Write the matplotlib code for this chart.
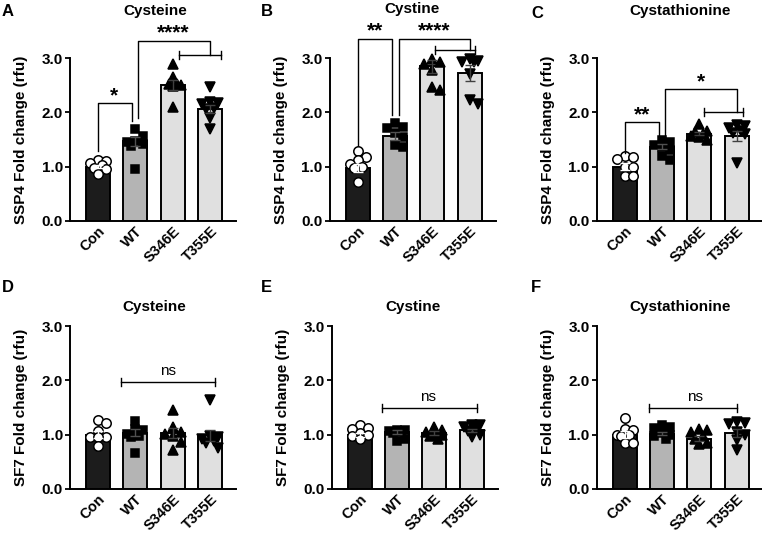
import numpy as np
import matplotlib
matplotlib.use('Agg')
import matplotlib.pyplot as plt

plt.rcParams['font.family'] = ['Liberation Sans', 'DejaVu Sans']
plt.rcParams['font.weight'] = 'bold'
plt.rcParams['axes.labelweight'] = 'bold'

# groups and styling per group
groups = ['Con', 'WT', 'S346E', 'T355E']

# ---- Panel A: SSP4, Cysteine ----
a_means = [1.00, 1.47, 2.51, 2.06]
a_sems = [0.03, 0.08, 0.09, 0.08]
a_con = [1.12, 1.10, 1.06, 1.03, 0.98, 0.96, 0.86]
a_wt = [1.69, 1.57, 1.48, 1.45, 1.42, 1.38, 0.95]
a_s346e = [2.89, 2.66, 2.53, 2.52, 2.50, 2.48, 2.10]
a_t355e = [2.46, 2.20, 2.18, 2.16, 2.08, 2.06, 1.89, 1.70]

# ---- Panel B: SSP4, Cystine ----
b_means = [0.98, 1.57, 2.85, 2.72]
b_sems = [0.07, 0.07, 0.12, 0.15]
b_con = [1.28, 1.17, 1.13, 1.05, 1.00, 0.97, 0.71]
b_wt = [1.80, 1.74, 1.72, 1.62, 1.55, 1.40, 1.37]
b_s346e = [2.98, 2.93, 2.90, 2.78, 2.47, 2.41]
b_t355e = [2.98, 2.94, 2.93, 2.92, 2.70, 2.23, 2.15]

# ---- Panel C: SSP4, Cystathionine ----
c_means = [1.00, 1.37, 1.61, 1.56]
c_sems = [0.06, 0.05, 0.03, 0.09]
c_con = [1.19, 1.17, 1.15, 1.00, 0.99, 0.83, 0.82]
c_wt = [1.50, 1.45, 1.40, 1.37, 1.30, 1.20, 1.13]
c_s346e = [1.78, 1.66, 1.64, 1.60, 1.57, 1.55, 1.50]
c_t355e = [1.77, 1.75, 1.72, 1.65, 1.62, 1.60, 1.07]

# ---- Panel D: SF7, Cysteine ----
d_means = [1.00, 1.04, 1.03, 0.99]
d_sems = [0.06, 0.07, 0.09, 0.10]
d_con = [1.27, 1.21, 1.07, 0.95, 0.95, 0.95, 0.79]
d_wt = [1.26, 1.10, 1.08, 1.02, 0.98, 0.95, 0.66]
d_s346e = [1.45, 1.14, 1.05, 1.02, 0.98, 0.87, 0.72]
d_t355e = [1.64, 0.97, 0.95, 0.93, 0.88, 0.85, 0.75]

# ---- Panel E: SF7, Cystine ----
e_means = [1.00, 1.05, 1.03, 1.08]
e_sems = [0.04, 0.03, 0.03, 0.03]
e_con = [1.17, 1.12, 1.10, 1.03, 1.00, 0.98, 0.92]
e_wt = [1.09, 1.08, 1.07, 1.05, 1.03, 0.92, 0.88]
e_s346e = [1.15, 1.08, 1.05, 1.02, 1.00, 0.98, 0.93]
e_t355e = [1.18, 1.17, 1.15, 1.10, 1.06, 1.00, 0.96]

# ---- Panel F: SF7, Cystathionine ----
f_means = [1.00, 1.02, 0.93, 1.03]
f_sems = [0.06, 0.03, 0.04, 0.07]
f_con = [1.30, 1.10, 1.08, 1.00, 0.99, 0.98, 0.84, 0.84]
f_wt = [1.18, 1.15, 1.12, 1.03, 1.00, 0.97, 0.93]
f_s346e = [1.10, 1.08, 1.05, 0.98, 0.92, 0.85, 0.82]
f_t355e = [1.24, 1.22, 1.20, 1.05, 1.00, 0.90, 0.72]

y_ticks = [0, 1, 2, 3]
y_ticklabels = ['0.0', '1.0', '2.0', '3.0']

BAR_COLORS = ['#1c1c1c', '#b4b4b4', '#e0e0e0', '#e0e0e0']
ERR_COLORS = ['#ffffff', '#505050', '#404040', '#404040']
MARKERS = ['o', 's', '^', 'v']
MSIZE = [6.8, 6.0, 7.0, 7.0]
FACES = ['white', 'black', 'black', 'black']

W, H = 762, 533
XLIM = (-0.75, 3.7)
PX_X = 37.4   # pixels per x unit
PX_Y = 54.3   # pixels per y unit


def swarm(values, d=8.0, max_px=11.0):
    """simple beeswarm: horizontal offsets (data units) so markers don't overlap"""
    placed = []
    offs = []
    cands = [0.0]
    for k in range(1, 6):
        cands += [k * d / 2.0, -k * d / 2.0]
    for v in values:
        y = v * PX_Y
        best, best_gap = 0.0, -1
        for c in cands:
            if abs(c) > max_px:
                continue
            gap = min([np.hypot(c - px, y - py) for px, py in placed] + [99])
            if gap >= d:
                best = c
                break
            if gap > best_gap:
                best, best_gap = c, gap
        placed.append((best, y))
        offs.append(best / PX_X)
    return offs


def draw_panel(ax, means, sems, points, ylabel):
    x = np.arange(len(groups))
    ax.bar(x, means, width=0.64, color=BAR_COLORS, edgecolor='black',
           linewidth=1.4, zorder=2)
    for i, pts in enumerate(points):
        offs = swarm(pts)
        ax.plot(x[i] + np.array(offs), pts, linestyle='none', marker=MARKERS[i],
                ms=MSIZE[i], mfc=FACES[i], mec='black', mew=1.1,
                zorder=3, clip_on=False)
        ax.errorbar(x[i], means[i], yerr=sems[i], color=ERR_COLORS[i],
                    capsize=3.5, elinewidth=1.0, capthick=1.0, zorder=4)
    ax.set_xlim(*XLIM)
    ax.set_ylim(0, 3.0)
    ax.set_yticks(y_ticks)
    ax.set_yticklabels(y_ticklabels, fontsize=11, fontweight='bold')
    ax.set_xticks(x)
    ax.set_xticklabels(groups, fontsize=10.5, fontweight='bold', rotation=45,
                       ha='right', va='top', rotation_mode='anchor')
    ax.tick_params(axis='x', length=0, pad=2)
    ax.tick_params(axis='y', length=3.5, width=1.3, pad=1.5)
    for s in ['top', 'right']:
        ax.spines[s].set_visible(False)
    for s in ['left', 'bottom']:
        ax.spines[s].set_linewidth(1.4)
    ax.set_ylabel(ylabel, fontsize=11, fontweight='bold')
    ax.yaxis.set_label_coords(-0.25, 0.5)


def bracket(ax, x1, x2, top, b1, b2, text, ty, tx=None):
    ax.plot([x1, x1, x2, x2], [b1, top, top, b2], color='black', lw=1.0,
            clip_on=False, zorder=5)
    if tx is None:
        tx = (x1 + x2) / 2
    ax.text(tx, ty, text, ha='center', va='center', fontsize=15,
            fontweight='bold', clip_on=False)


def cap_line(ax, x1, x2, y, cap=0.07):
    ax.plot([x1, x2], [y, y], color='black', lw=1.0, clip_on=False, zorder=5)
    for xx in (x1, x2):
        ax.plot([xx, xx], [y - cap, y + cap], color='black', lw=1.0,
                clip_on=False, zorder=5)


def add_axes_px(left, y0):
    width = (XLIM[1] - XLIM[0]) * PX_X
    height = 3.0 * PX_Y
    return fig.add_axes([left / W, 1 - y0 / H, width / W, height / H])


fig = plt.figure(figsize=(W / 100, H / 100), dpi=100)

# top row (SSP4)
axA = add_axes_px(70, 221)
axB = add_axes_px(329.5, 221)
axC = add_axes_px(596.5, 221)
# bottom row (SF7)
axD = add_axes_px(70, 489)
axE = add_axes_px(331.5, 489)
axF = add_axes_px(596.5, 489)

draw_panel(axA, a_means, a_sems, [a_con, a_wt, a_s346e, a_t355e],
           'SSP4 Fold change (rfu)')
draw_panel(axB, b_means, b_sems, [b_con, b_wt, b_s346e, b_t355e],
           'SSP4 Fold change (rfu)')
draw_panel(axC, c_means, c_sems, [c_con, c_wt, c_s346e, c_t355e],
           'SSP4 Fold change (rfu)')
draw_panel(axD, d_means, d_sems, [d_con, d_wt, d_s346e, d_t355e],
           'SF7 Fold change (rfu)')
draw_panel(axE, e_means, e_sems, [e_con, e_wt, e_s346e, e_t355e],
           'SF7 Fold change (rfu)')
draw_panel(axF, f_means, f_sems, [f_con, f_wt, f_s346e, f_t355e],
           'SF7 Fold change (rfu)')

# panel titles (figure coordinates, pixels from top-left)
for title, px, py in [('Cysteine', 155, 11), ('Cystine', 412, 9),
                      ('Cystathionine', 680, 11), ('Cysteine', 154, 307),
                      ('Cystine', 413, 307), ('Cystathionine', 680, 307)]:
    fig.text(px / W, 1 - py / H, title, fontsize=11, fontweight='bold',
             ha='center', va='center')

# significance brackets
bracket(axA, 0, 0.9, 2.17, 1.28, 1.84, '*', 2.30, 0.43)
bracket(axA, 1.08, 3.0, 3.32, 1.89, 3.06, '****', 3.46, 2.0)
cap_line(axA, 2.17, 3.28, 3.06)

bracket(axB, 0, 0.93, 3.35, 1.40, 1.95, '**', 3.51, 0.47)
bracket(axB, 1.11, 3.02, 3.35, 1.95, 3.15, '****', 3.51, 2.05)
cap_line(axB, 2.07, 3.15, 3.15)

bracket(axC, 0, 0.92, 1.83, 1.25, 1.55, '**', 1.96, 0.47)
bracket(axC, 1.08, 3.02, 2.43, 1.55, 2.01, '*', 2.56, 2.03)
cap_line(axC, 2.13, 3.16, 2.01)

cap_line(axD, 0.62, 3.13, 1.97)
axD.text(1.88, 2.17, 'ns', ha='center', va='center', fontsize=11,
         fontweight='normal')
cap_line(axE, 0.61, 3.14, 1.49)
axE.text(1.84, 1.70, 'ns', ha='center', va='center', fontsize=11,
         fontweight='normal')
cap_line(axF, 0.65, 3.0, 1.49)
axF.text(1.88, 1.70, 'ns', ha='center', va='center', fontsize=11,
         fontweight='normal')

# panel letters
for letter, px, py in [('A', 2, 12), ('B', 261, 12), ('C', 531, 14),
                       ('D', 2, 288), ('E', 261, 288), ('F', 531, 288)]:
    fig.text(px / W, 1 - py / H, letter, fontsize=12, fontweight='bold',
             ha='left', va='center')

plt.savefig('out.png', dpi=100)
